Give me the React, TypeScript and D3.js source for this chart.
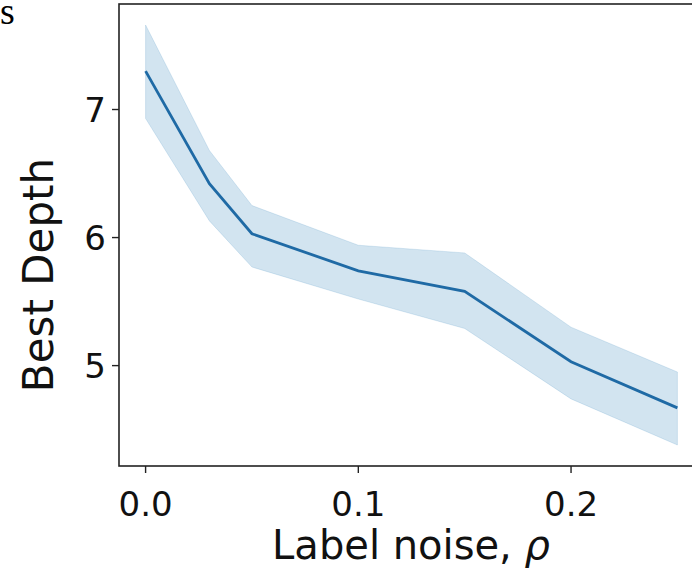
import React from "react";
import * as d3 from "d3";

const noise = [0, 0.03, 0.05, 0.1, 0.15, 0.2, 0.25];
const meanDepth = [7.3, 6.42, 6.03, 5.74, 5.58, 5.03, 4.67];
const upperDepth = [7.66, 6.68, 6.25, 5.94, 5.88, 5.3, 4.95];
const lowerDepth = [6.93, 6.13, 5.77, 5.52, 5.29, 4.74, 4.38];
const xTicks = [0.0, 0.1, 0.2];
const yTicks = [5, 6, 7];

const W = 692;
const H = 575;
const left = 119;
const top = 4;
const bottom = 466;
const right = 704;

export default function App() {
  const x = d3.scaleLinear().domain([-0.0125, 0.2625]).range([left, right]);
  const y = d3.scaleLinear().domain([4.216, 7.824]).range([bottom, top]);
  const pts = noise.map((n, i) => ({ n, m: meanDepth[i], u: upperDepth[i], l: lowerDepth[i] }));
  const area = d3
    .area<any>()
    .x((d) => x(d.n))
    .y0((d) => y(d.l))
    .y1((d) => y(d.u));
  const line = d3
    .line<any>()
    .x((d) => x(d.n))
    .y((d) => y(d.m));
  const font = "DejaVu Sans, sans-serif";
  return (
    <svg
      width={W}
      height={H}
      style={{ position: "absolute", left: 0, top: 0, background: "#fff" }}
    >
      <text x={0} y={24} fontFamily="Liberation Serif, serif" fontSize={38} fill="#000">
        s
      </text>
      <path d={area(pts) || ""} fill="#1f77b4" fillOpacity={0.2} stroke="#1f77b4" strokeOpacity={0.15} strokeWidth={1} />
      <path d={line(pts) || ""} fill="none" stroke="#1f6aa5" strokeWidth={2.8} />
      <rect x={left} y={top} width={right - left} height={bottom - top} fill="none" stroke="#222" strokeWidth={1.6} />
      {xTicks.map((t) => (
        <g key={"x" + t}>
          <line x1={x(t)} x2={x(t)} y1={bottom} y2={bottom + 7} stroke="#222" strokeWidth={1.4} />
          <text x={x(t)} y={516} textAnchor="middle" fontFamily={font} fontSize={34} fill="#111">
            {d3.format(".1f")(t)}
          </text>
        </g>
      ))}
      {yTicks.map((t) => (
        <g key={"y" + t}>
          <line x1={left - 7} x2={left} y1={y(t)} y2={y(t)} stroke="#222" strokeWidth={1.4} />
          <text x={106} y={y(t)} dy="0.36em" textAnchor="end" fontFamily={font} fontSize={34} fill="#111">
            {t}
          </text>
        </g>
      ))}
      <text x={411} y={559} textAnchor="middle" fontFamily={font} fontSize={40} fill="#111">
        Label noise, <tspan fontStyle="italic">ρ</tspan>
      </text>
      <text
        transform={`translate(53,275) rotate(-90)`}
        textAnchor="middle"
        fontFamily={font}
        fontSize={42}
        fill="#111"
      >
        Best Depth
      </text>
    </svg>
  );
}
